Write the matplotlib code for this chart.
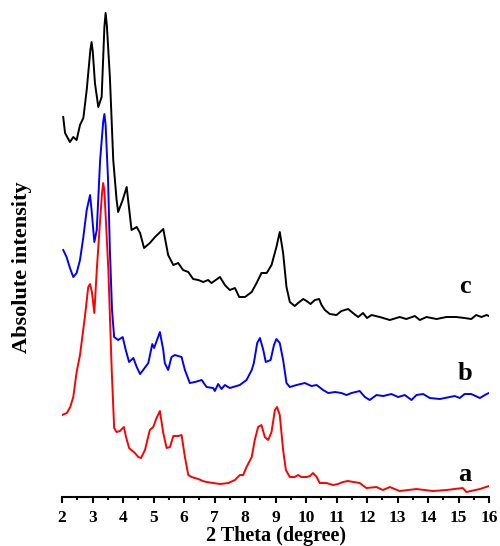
import numpy as np
import matplotlib
matplotlib.use("Agg")
import matplotlib.pyplot as plt
from matplotlib.ticker import MultipleLocator

theta_a = [2.00, 2.16, 2.27, 2.37, 2.48, 2.59, 2.75, 2.86, 2.92, 2.98, 3.06, 3.14, 3.25, 3.31,
           3.35, 3.39, 3.45, 3.52, 3.63,
           3.71, 3.79, 3.90, 4.03, 4.10, 4.20, 4.39, 4.50, 4.59, 4.72, 4.88, 4.99, 5.10, 5.21,
           5.32, 5.43, 5.54, 5.65, 5.81, 5.92, 6.03, 6.14, 6.25, 6.47, 6.62, 6.74, 6.96, 7.18,
           7.45, 7.67, 7.83, 7.94, 8.05, 8.22, 8.32, 8.43, 8.54, 8.65, 8.76, 8.87, 8.98, 9.05,
           9.14, 9.25, 9.34, 9.47, 9.63, 9.74, 9.85, 10.02, 10.13, 10.23, 10.35, 10.45, 10.67,
           10.89, 11.05, 11.21, 11.37, 11.76, 11.98, 12.31, 12.52, 12.75, 13.07, 13.62, 14.16,
           14.60, 15.14, 15.26, 15.70, 16.00]
int_a = [82, 84, 90, 100, 125, 142, 180, 210, 213, 205, 184, 227, 277, 303,
         314, 306, 270, 227, 127,
         69, 65, 66, 70, 60, 49, 44, 40, 39, 47, 67, 70, 79, 86,
         64, 49, 50, 61, 61, 62, 40, 22, 20, 18, 16, 15, 14, 13,
         14, 17, 22, 22, 30, 40, 57, 70, 72, 60, 57, 65, 87, 90,
         82, 47, 27, 20, 20, 22, 20, 20, 21, 24, 20, 14, 14,
         12, 13, 15, 16, 14, 9, 10, 7, 10, 6, 8, 6,
         7, 9, 5, 8, 11]

theta_b = [2.04, 2.15, 2.26, 2.37, 2.48, 2.59, 2.70, 2.81, 2.92, 2.97, 3.06, 3.14, 3.25, 3.35,
           3.39, 3.43, 3.51, 3.57, 3.64, 3.71, 3.84, 3.99, 4.09, 4.20, 4.34, 4.45, 4.56, 4.66,
           4.83, 4.96, 5.02, 5.21, 5.32, 5.37, 5.48, 5.59, 5.70, 5.92, 6.03, 6.19, 6.36, 6.58,
           6.74, 6.96, 7.01, 7.12, 7.23, 7.34, 7.50, 7.83, 8.05, 8.22, 8.29, 8.40, 8.49, 8.60,
           8.68, 8.84, 8.95, 9.03, 9.14, 9.25, 9.36, 9.47, 9.69, 9.96, 10.18, 10.35, 10.56,
           10.73, 10.95, 11.16, 11.33, 11.49, 11.76, 11.93, 12.09, 12.31, 12.53, 12.80, 13.02,
           13.24, 13.46, 13.62, 13.84, 14.06, 14.39, 14.71, 14.88, 15.04, 15.20, 15.42, 15.70,
           15.92, 16.00]
int_b = [247, 240, 229, 220, 224, 237, 260, 287, 302, 287, 255, 267, 337, 375,
         383, 372, 317, 247, 187, 160, 157, 160, 147, 135, 139, 130, 123, 127,
         134, 153, 149, 165, 147, 134, 127, 140, 142, 140, 127, 114, 115, 117,
         110, 109, 106, 113, 108, 112, 109, 112, 117, 127, 134, 154, 159, 147,
         135, 137, 152, 158, 154, 137, 114, 110, 112, 114, 111, 112, 107,
         104, 105, 104, 102, 104, 106, 100, 97, 102, 101, 103, 100,
         102, 97, 102, 103, 99, 98, 100, 101, 99, 103, 103, 99,
         103, 104]

theta_c = [2.04, 2.10, 2.26, 2.37, 2.48, 2.59, 2.70, 2.81, 2.93, 2.97, 3.01, 3.08, 3.19, 3.30,
           3.39, 3.43, 3.47, 3.57, 3.68, 3.79, 3.84, 3.99, 4.12, 4.28, 4.45, 4.56, 4.69, 4.88,
           5.05, 5.32, 5.48, 5.65, 5.81, 5.97, 6.14, 6.30, 6.47, 6.63, 6.79, 6.90, 7.18, 7.34,
           7.50, 7.67, 7.81, 8.00, 8.22, 8.38, 8.54, 8.71, 8.87, 9.03, 9.14, 9.25, 9.36, 9.47,
           9.63, 9.74, 9.91, 10.02, 10.15, 10.29, 10.43, 10.51, 10.62, 10.78, 11.00, 11.16,
           11.38, 11.54, 11.71, 11.87, 12.00, 12.15, 12.42, 12.75, 13.07, 13.29, 13.57, 13.73,
           13.95, 14.28, 14.60, 14.93, 15.20, 15.42, 15.58, 15.75, 15.92, 16.00]
int_c = [380, 364, 355, 360, 357, 372, 379, 407, 447, 455, 445, 414, 390, 400,
         470, 484, 472, 420, 337, 297, 285, 297, 310, 267, 270, 264, 249, 254,
         260, 268, 242, 232, 234, 227, 225, 218, 217, 215, 217, 214, 220, 212,
         207, 209, 200, 200, 205, 214, 224, 224, 232, 250, 265, 244, 210, 195,
         191, 194, 198, 196, 193, 197, 198, 192, 187, 183, 182, 186,
         188, 184, 180, 184, 179, 182, 180, 177, 180, 178, 181, 177,
         180, 178, 180, 180, 179, 178, 182, 180, 182, 181]

etiquetas = ['a', 'b', 'c']
pos_etiquetas = [(15.19, 16), (15.21, 117), (15.21, 204)]

fig = plt.figure(figsize=(5.0, 5.46), dpi=100)
ax = fig.add_axes([0.124, 0.0897, 0.854, 0.9103])

ax.plot(theta_a, int_a, color='red', linewidth=1.4)
ax.plot(theta_b, int_b, color='blue', linewidth=1.4)
ax.plot(theta_c, int_c, color='black', linewidth=1.4)

for lab, (xx, yy) in zip(etiquetas, pos_etiquetas):
    ax.text(xx, yy, lab, ha='center', va='baseline', fontsize=19,
            fontweight='bold', family='Liberation Serif')

ax.set_xlim(2, 16)
ax.set_ylim(0, 497)

# solo el eje inferior
for s in ['top', 'right', 'left']:
    ax.spines[s].set_visible(False)
ax.spines['bottom'].set_linewidth(1.5)
ax.set_yticks([])
ax.xaxis.set_major_locator(MultipleLocator(1))
ax.xaxis.set_minor_locator(MultipleLocator(0.5))
ax.tick_params(axis='x', which='major', direction='out', length=4, width=1.5, pad=5)
ax.tick_params(axis='x', which='minor', direction='out', length=2, width=1.5)
for t in ax.get_xticklabels():
    t.set_fontfamily('Liberation Serif')
    t.set_fontweight('bold')
    t.set_fontsize(12.5)

ax.set_xlabel('2 Theta (degree)', family='Liberation Serif', fontweight='bold',
              fontsize=14.5, labelpad=0)
fig.text(0.045, 0.51, 'Absolute intensity', rotation=90, ha='center', va='center',
         family='Liberation Serif', fontweight='bold', fontsize=16)

plt.savefig('out.png', dpi=100)
